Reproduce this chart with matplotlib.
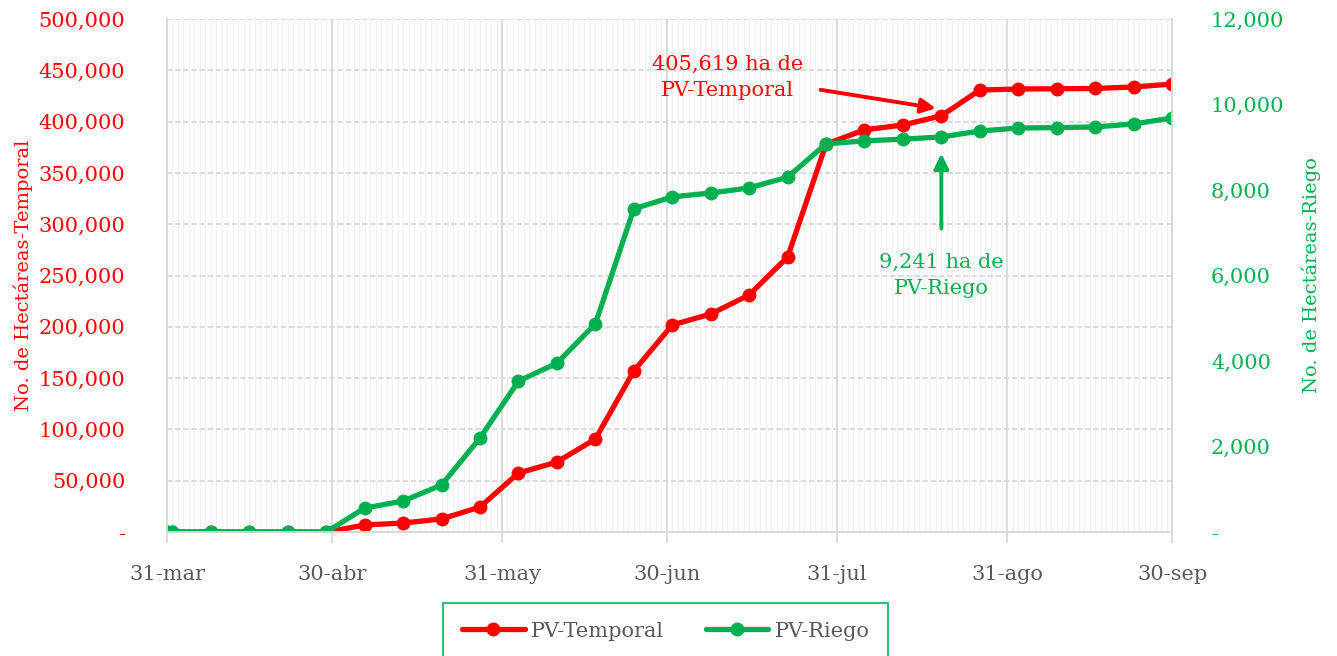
import matplotlib
matplotlib.use("Agg")
import matplotlib.pyplot as plt
import matplotlib.dates as mdates
import matplotlib.ticker as mticker
import numpy as np
import pandas as pd

plt.rcParams['font.family'] = ['DejaVu Serif']

# fechas de corte (31-mar, 1-abr y luego semanal hasta 30-sep)
fechas = ['2020-03-31', '2020-04-01', '2020-04-08', '2020-04-15', '2020-04-22',
          '2020-04-29', '2020-05-06', '2020-05-13', '2020-05-20', '2020-05-27',
          '2020-06-03', '2020-06-10', '2020-06-17', '2020-06-24', '2020-07-01',
          '2020-07-08', '2020-07-15', '2020-07-22', '2020-07-29', '2020-08-05',
          '2020-08-12', '2020-08-19', '2020-08-26', '2020-09-02', '2020-09-09',
          '2020-09-16', '2020-09-23', '2020-09-30']
pv_temporal = [0, 0, 0, 0, 0, 0, 6800, 8800, 12700, 24400, 57500, 68200, 90600,
               157000, 201800, 212500, 231000, 268000, 378000, 392000, 396700,
               405619, 430800, 431800, 432000, 432300, 433800, 436600]
pv_riego = [0, 0, 0, 0, 0, 0, 560, 725, 1100, 2200, 3530, 3950, 4870, 7560,
            7840, 7930, 8050, 8300, 9080, 9150, 9190, 9241, 9380, 9450, 9460,
            9475, 9545, 9685]
tick_fechas = ['2020-03-31', '2020-04-30', '2020-05-31', '2020-06-30',
               '2020-07-31', '2020-08-31', '2020-09-30']
tick_labels = ['31-mar', '30-abr', '31-may', '30-jun', '31-jul', '31-ago', '30-sep']

ROJO = '#ff0000'
VERDE = '#00b050'
GRIS = '#595959'

x = pd.to_datetime(fechas)

fig = plt.figure(figsize=(13.37, 6.56), dpi=100)
ax = fig.add_axes([0.1249, 0.189, 0.7517, 0.782])
ax2 = ax.twinx()

ax.set_xlim(pd.Timestamp('2020-03-31'), pd.Timestamp('2020-09-30'))
ax.set_ylim(0, 500000)
ax2.set_ylim(0, 12000)

# rejilla
dias = pd.date_range('2020-03-31', '2020-09-30', freq='D')
ax.set_xticks(mdates.date2num(dias), minor=True)
ax.set_xticks(mdates.date2num(pd.to_datetime(tick_fechas)))
ax.set_xticklabels(tick_labels)
ax.grid(which='minor', axis='x', color='#f2f2f2', lw=1.0)
ax.grid(which='major', axis='x', color='#d9d9d9', lw=1.3)
ax.set_yticks(np.arange(0, 500001, 50000))
ax.grid(which='major', axis='y', color='#d9d9d9', lw=1.3, ls=(0, (3, 1.5)))
ax.set_axisbelow(True)

ax.plot(x, pv_temporal, color=ROJO, lw=3.8, marker='o', ms=9, label='PV-Temporal',
        solid_capstyle='round')
ax2.plot(x, pv_riego, color=VERDE, lw=3.8, marker='o', ms=9, label='PV-Riego',
         solid_capstyle='round')

fmt_l = mticker.FuncFormatter(lambda v, p: '-' if v == 0 else f'{v:,.0f}')
ax.yaxis.set_major_formatter(fmt_l)
ax2.yaxis.set_major_formatter(fmt_l)
ax2.set_yticks(np.arange(0, 12001, 2000))

for a in (ax, ax2):
    for s in a.spines.values():
        s.set_color('#d9d9d9')
        s.set_linewidth(1.3)
    a.spines['top'].set_visible(False)

ax.tick_params(axis='y', colors=ROJO, labelsize=15, length=0, pad=30)
ax2.tick_params(axis='y', colors=VERDE, labelsize=15, length=0, pad=28)
ax.tick_params(axis='x', which='major', colors=GRIS, labelsize=15, length=8, pad=16)
ax.tick_params(axis='x', which='major', color='#d9d9d9', width=1.3)
ax.tick_params(axis='x', which='minor', length=0)
ax.tick_params(axis='x', labelcolor=GRIS)

ax.set_ylabel('No. de Hectáreas-Temporal', color=ROJO, fontsize=14, labelpad=4)
ax2.set_ylabel('No. de Hectáreas-Riego', color=VERDE, fontsize=14, labelpad=12)

# anotaciones
ax.text(pd.Timestamp('2020-07-11'), 443000, '405,619 ha de\nPV-Temporal', color=ROJO,
        fontsize=15, ha='center', va='center', linespacing=1.45)
ax.annotate('', xy=(pd.Timestamp('2020-08-18'), 413000),
            xytext=(pd.Timestamp('2020-07-28'), 431000),
            arrowprops=dict(arrowstyle='-|>', color=ROJO, lw=2.8, mutation_scale=22,
                            shrinkA=0, shrinkB=0))
ax2.text(pd.Timestamp('2020-08-19'), 6000, '9,241 ha de\nPV-Riego', color=VERDE,
         fontsize=15, ha='center', va='center', linespacing=1.45)
ax2.annotate('', xy=(pd.Timestamp('2020-08-19'), 8850),
             xytext=(pd.Timestamp('2020-08-19'), 7100),
             arrowprops=dict(arrowstyle='-|>', color=VERDE, lw=2.8, mutation_scale=22,
                             shrinkA=0, shrinkB=0))

h1, l1 = ax.get_legend_handles_labels()
h2, l2 = ax2.get_legend_handles_labels()
leg = fig.legend(h1 + h2, l1 + l2, loc='lower center', bbox_to_anchor=(0.498, -0.005),
                 ncol=2, fontsize=15, frameon=True, fancybox=False,
                 borderpad=0.9, columnspacing=2.0, handlelength=3.0,
                 handletextpad=0.3, borderaxespad=0)
leg.get_frame().set_edgecolor(VERDE)
leg.get_frame().set_linewidth(1.5)
for t in leg.get_texts():
    t.set_color(GRIS)

fig.savefig('out.png', dpi=100)
